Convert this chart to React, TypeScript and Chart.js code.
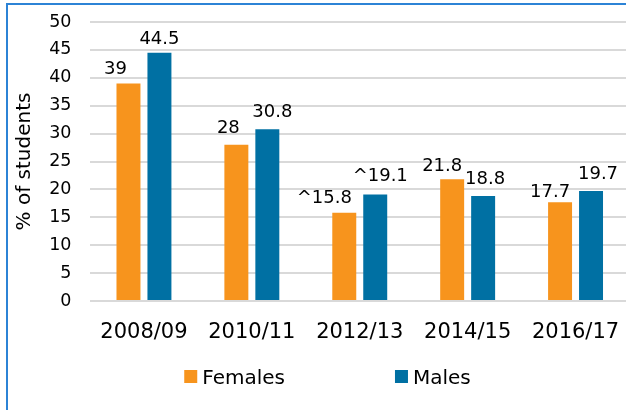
import React, { useEffect, useRef } from "react";
import { Chart, registerables } from "chart.js";

Chart.register(...registerables);

const categories = ["2008/09", "2010/11", "2012/13", "2014/15", "2016/17"];
const females = [39, 28, 15.8, 21.8, 17.7];
const males = [44.5, 30.8, 19.1, 18.8, 19.7];
const femaleLabels = ["39", "28", "^15.8", "21.8", "17.7"];
const maleLabels = ["44.5", "30.8", "^19.1", "18.8", "19.7"];
const seriesNames = ["Females", "Males"];
const yMin = 0;
const yMax = 50;
const yStep = 5;

const FONT = "'DejaVu Sans', sans-serif";
const COLORS = ["#F7941D", "#0070A3"];

const labelPlugin = {
  id: "barValueLabels",
  afterDatasetsDraw(chart: any) {
    const ctx = chart.ctx;
    const opts = chart.options.plugins.barValueLabels;
    ctx.save();
    ctx.font = `18px ${FONT}`;
    ctx.fillStyle = "#000";
    ctx.textAlign = "center";
    ctx.textBaseline = "alphabetic";
    chart.data.datasets.forEach((ds: any, di: number) => {
      const meta = chart.getDatasetMeta(di);
      meta.data.forEach((bar: any, i: number) => {
        const dx = opts.dx[di][i];
        const gap = opts.gap[di][i];
        ctx.fillText(ds.valueLabels[i], bar.x + dx, bar.y - gap);
      });
    });
    ctx.restore();
  },
};

const legendPlugin = {
  id: "bottomLegend",
  afterDraw(chart: any) {
    const ctx = chart.ctx;
    const o = chart.options.plugins.bottomLegend;
    ctx.save();
    ctx.font = `20px ${FONT}`;
    const items = chart.data.datasets.map((ds: any) => ({
      text: ds.label,
      color: ds.backgroundColor,
      w: o.box + o.textGap + ctx.measureText(ds.label).width,
    }));
    const total =
      items.reduce((s: number, it: any) => s + it.w, 0) + o.itemGap * (items.length - 1);
    let x = chart.width / 2 - total / 2;
    const yc = chart.chartArea.bottom + o.offsetY;
    items.forEach((it: any) => {
      ctx.fillStyle = it.color;
      ctx.fillRect(x, yc - o.box / 2, o.box, o.box);
      ctx.fillStyle = "#000";
      ctx.textAlign = "left";
      ctx.textBaseline = "alphabetic";
      ctx.fillText(it.text, x + o.box + o.textGap, yc + 7.5);
      x += it.w + o.itemGap;
    });
    ctx.restore();
  },
};

export default function App() {
  const ref = useRef<HTMLCanvasElement>(null);

  useEffect(() => {
    document.body.style.margin = "0";
    document.body.style.overflow = "hidden";
    const chart = new Chart(ref.current as HTMLCanvasElement, {
      type: "bar",
      data: {
        labels: categories,
        datasets: [
          {
            label: seriesNames[0],
            data: females,
            valueLabels: femaleLabels,
            backgroundColor: COLORS[0],
            borderWidth: 0,
            categoryPercentage: 0.574,
            barPercentage: 0.774,
          } as any,
          {
            label: seriesNames[1],
            data: males,
            valueLabels: maleLabels,
            backgroundColor: COLORS[1],
            borderWidth: 0,
            categoryPercentage: 0.574,
            barPercentage: 0.774,
          } as any,
        ],
      },
      options: {
        responsive: false,
        animation: false,
        layout: { padding: { top: 16, bottom: 59, left: 0, right: 16.5 } },
        plugins: {
          legend: { display: false },
          tooltip: { enabled: false },
          barValueLabels: {
            dx: [
              [-13, -8, -20, -10, -10],
              [0, 5, 5, 2, 7],
            ],
            gap: [
              [9, 12, 10, 8, 5],
              [9, 12, 13, 12, 12],
            ],
          },
          bottomLegend: { box: 13, textGap: 5, itemGap: 110, offsetY: 75.5 },
        } as any,
        scales: {
          x: {
            grid: { display: false },
            border: { display: false },
            ticks: { font: { family: FONT, size: 21 }, color: "#000", padding: 11 },
            afterFit: (s: any) => {
              s.height = 50;
            },
          },
          y: {
            min: yMin,
            max: yMax,
            ticks: {
              stepSize: yStep,
              font: { family: FONT, size: 17.5 },
              color: "#000",
              padding: 18.5,
            },
            grid: { color: "#D9D9D9", lineWidth: 2, drawTicks: false },
            border: { display: false },
            title: {
              display: true,
              text: "% of students",
              font: { family: FONT, size: 20 },
              color: "#000",
              padding: { top: 4, bottom: 0 },
            },
            afterFit: (s: any) => {
              s.width = 81;
              s.paddingTop = 0;
              s.paddingBottom = 0;
            },
          },
        },
      },
      plugins: [labelPlugin, legendPlugin],
    } as any);
    return () => chart.destroy();
  }, []);

  return (
    <div
      style={{
        position: "fixed",
        left: 6,
        top: 3,
        width: 700,
        height: 450,
        borderTop: "2px solid #2C83D6",
        borderLeft: "2px solid #2C83D6",
        background: "#fff",
      }}
    >
      <canvas
        ref={ref}
        width={637}
        height={404}
        style={{ position: "absolute", left: 1, top: 1, width: 637, height: 404 }}
      />
    </div>
  );
}
